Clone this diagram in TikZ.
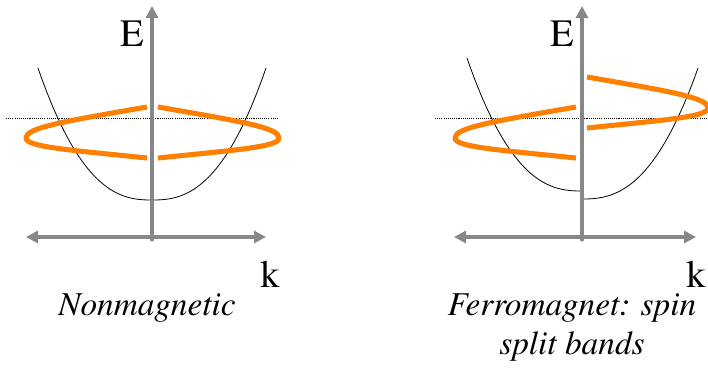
\documentclass[tikz,border=0pt]{standalone}
\usepackage[T1]{fontenc}
\usepackage{times}
\usetikzlibrary{arrows.meta}
\definecolor{bandorange}{RGB}{255,128,0}
\definecolor{axisgray}{RGB}{135,135,135}

\begin{document}
\begin{tikzpicture}[x=0.75pt,y=-0.75pt,
    line cap=round,line join=round,
    axisline/.style={draw=axisgray,line width=2.3pt,
      arrows={-Triangle[length=9pt,width=9pt]}},
    haxisline/.style={draw=axisgray,line width=2.3pt,
      arrows={Triangle[length=9pt,width=9pt]-Triangle[length=9pt,width=9pt]}},
    band/.style={draw=bandorange,line width=3.8pt,line cap=butt},
    dispersion/.style={draw=black,line width=0.6pt},
    fermi/.style={draw=black,line width=0.6pt,line cap=butt,
      dash pattern=on 0.8pt off 0.8pt},
    axislabel/.style={inner sep=0pt,anchor=base,
      font=\fontsize{29}{34}\selectfont},
    caption/.style={inner sep=0pt,anchor=base,
      font=\fontsize{25}{30}\selectfont\itshape}]
    \useasboundingbox (0,0) rectangle (708,369);
    \clip (0,0) rectangle (708,369);

    % Free parabolas: left panel, then the two shifted halves on the right.
    \draw[dispersion] plot[domain=-114:114,samples=80]
      ({152+\x},{200-132*(abs(\x)/114)^2.5});
    \draw[dispersion] plot[domain=-115:-0.01,samples=50]
      ({582+\x},{191-133*(abs(\x)/115)^2.5});
    \draw[dispersion] plot[domain=0.01:116,samples=50]
      ({582+\x},{199-131*(abs(\x)/116)^2.5});

    % Fermi level.
    \coordinate (fl1) at (6,118);
    \coordinate (fr1) at (278,118);
    \coordinate (fl2) at (435,118);
    \coordinate (fr2) at (708,118);
    \draw[fermi] (fl1) -- (fr1);
    \draw[fermi] (fl2) -- (fr2);

    % Axes.
    \coordinate (o1) at (152,240);
    \coordinate (etop1) at (152,6);
    \coordinate (kl1) at (26,237);
    \coordinate (kr1) at (266,237);
    \coordinate (o2) at (582,240);
    \coordinate (etop2) at (582,6);
    \coordinate (kl2) at (454,237);
    \coordinate (kr2) at (696,237);
    \draw[haxisline] (kl1) -- (kr1);
    \draw[axisline] (o1) -- (etop1);
    \draw[haxisline] (kl2) -- (kr2);
    \draw[axisline] (o2) -- (etop2);

    % The orange bands, each half drawn from its upper end.
    \foreach \bx/\by/\bs in {147/107/1, 158/107/-1, 576/107/1, 587/77/-1} {
      \draw[band,shift={(\bx,\by)},xscale=\bs]
        (0,0) .. controls (-87,15) and (-121,21) .. (-121,31)
        .. controls (-121,40) and (-77,43) .. (0,51);
    }

    % Labels.
    \node[axislabel] (Eleft) at (132,46) {E};
    \node[axislabel] (kleft) at (270,287) {k};
    \node[axislabel] (Eright) at (562,46) {E};
    \node[axislabel] (kright) at (696,287) {k};

    \node[caption] (capleft) at (147,315) {Nonmagnetic};
    \node[caption] (capright) at (572,315) {Ferromagnet: spin};
    \node[caption] (caprightb) at (572,354) {split bands};
  \end{tikzpicture}
\end{document}
